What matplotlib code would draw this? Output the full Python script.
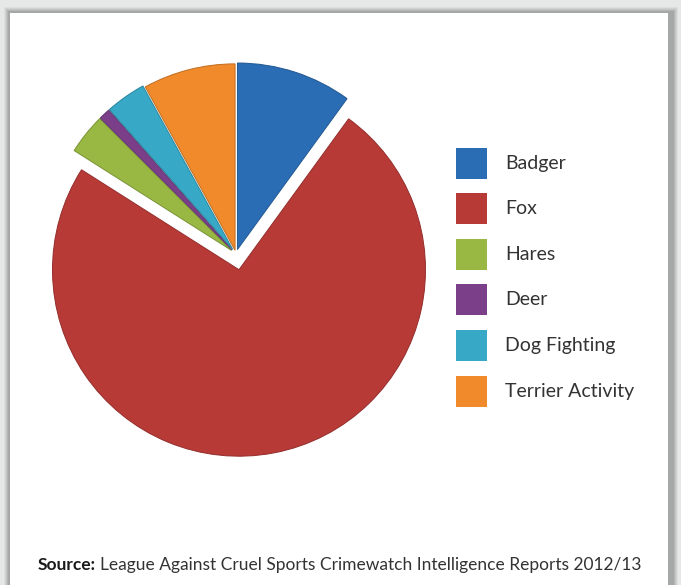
import matplotlib.pyplot as plt
from matplotlib.patches import Rectangle
import matplotlib.colors as mcolors

# Data (percent of reports)
categories = ['Badger', 'Fox', 'Hares', 'Deer', 'Dog Fighting', 'Terrier Activity']
values = [10.0, 74.0, 3.5, 1.0, 3.5, 8.0]
colors = ['#2b6db4', '#b83a37', '#98b843', '#7b3f8a', '#37a8c6', '#f08a2b']
explode = [0.025, 0.085, 0.03, 0.03, 0.03, 0.02]

W, H = 681, 585
fig = plt.figure(figsize=(W / 100, H / 100), dpi=100)
fig.patch.set_facecolor('#e6e7e7')

# background axes in pixel coordinates (y measured from bottom)
bg = fig.add_axes([0, 0, 1, 1])

# soft shadow round the white card
for i, a in enumerate([0.04, 0.05, 0.06, 0.07, 0.08]):
    d = 6 - i
    bg.add_patch(Rectangle((10 - d, -10), 658 + 2 * d + 4, H - 13 + 10 + d,
                           facecolor='black', alpha=a, lw=0))
bg.add_patch(Rectangle((10, -10), 658, H - 13 + 10, facecolor='white', lw=0))

# pie (pie explode is in data units, so scale by the radius)
r = 188
cx, cy = 236, H - 254
edges = [tuple(v * 0.8 for v in mcolors.to_rgb(c)) for c in colors]
# white outline first to open small gaps between the slices
bg.pie(values, colors=colors, explode=[e * r for e in explode],
       startangle=90, counterclock=False, radius=r, center=(cx, cy),
       frame=True, wedgeprops=dict(linewidth=3, edgecolor='white'))
wedges, _ = bg.pie(values, colors=colors, explode=[e * r for e in explode],
                   startangle=90, counterclock=False, radius=r - 1.5,
                   center=(cx, cy), frame=True, wedgeprops=dict(linewidth=0.7))
for w, e in zip(wedges, edges):
    w.set_edgecolor(e)
bg.set_xlim(0, W)
bg.set_ylim(0, H)
bg.set_aspect('auto')
bg.axis('off')

# legend
font = 'Lato'
y0 = 163
for i, (lab, col) in enumerate(zip(categories, colors)):
    y = H - (y0 + i * 45.6)
    bg.add_patch(Rectangle((456, y - 15.5), 31, 31, facecolor=col, lw=0))
    bg.text(505, y, lab, fontsize=14, color='#333333', va='center',
            ha='left', family=font)

# source line
t = bg.text(38, H - 565, 'Source:', fontsize=12.5, color='#1a1a1a',
            va='center', ha='left', family=font, fontweight='bold')
fig.canvas.draw()
bb = t.get_window_extent()
bg.text(bb.x1 + 4, H - 565, 'League Against Cruel Sports Crimewatch Intelligence Reports 2012/13',
        fontsize=12.5, color='#333333', va='center', ha='left', family=font)

fig.savefig('out.png', dpi=100, facecolor=fig.get_facecolor())
